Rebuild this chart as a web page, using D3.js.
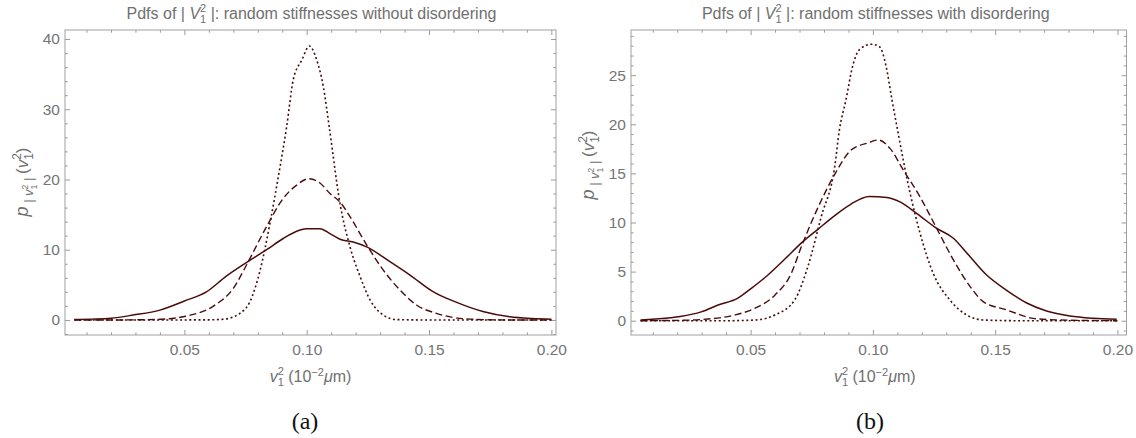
<!DOCTYPE html>
<html>
<head>
<meta charset="utf-8">
<script src="https://cdn.jsdelivr.net/npm/d3@7"></script>
<style>
  html, body { margin: 0; padding: 0; background: #fff; }
  svg { display: block; }
  .tick text { font-family: "Liberation Sans", Arial, sans-serif; font-size: 15.5px; fill: #747474; }
  .tick line { stroke: #9a9a9a; stroke-width: 1; }
</style>
</head>
<body>
<svg id="chart" width="1136" height="438"></svg>
<script>
// ---- data: panel (a), random stiffnesses without disordering ----
const aSolidV  = [0.005, 0.012, 0.020, 0.029, 0.040, 0.050, 0.059, 0.067, 0.0755, 0.0836, 0.0904, 0.0973, 0.100, 0.1054, 0.1095, 0.1136, 0.119, 0.1245, 0.134, 0.1422, 0.1518, 0.1613, 0.172, 0.183, 0.192, 0.200];
const aSolidP  = [0.05, 0.12, 0.25, 0.7, 1.4, 2.7, 4.0, 6.2, 8.2, 10.0, 11.6, 12.8, 13.0, 13.0, 12.3, 11.5, 11.1, 10.4, 8.3, 6.4, 4.0, 2.5, 1.2, 0.45, 0.2, 0.1];
const aDashV   = [0.005, 0.020, 0.030, 0.040, 0.050, 0.062, 0.070, 0.0755, 0.0836, 0.0904, 0.0959, 0.1007, 0.1054, 0.1095, 0.1136, 0.1177, 0.1245, 0.1313, 0.138, 0.145, 0.153, 0.161, 0.172, 0.185, 0.200];
const aDashP   = [0, 0, 0.02, 0.1, 0.5, 2.0, 4.5, 7.9, 13.3, 17.3, 19.2, 20.1, 19.5, 18.0, 16.8, 14.7, 10.7, 7.1, 4.3, 2.1, 0.95, 0.3, 0.05, 0, 0];
const aDotV    = [0.005, 0.040, 0.060, 0.066, 0.0727, 0.0768, 0.0809, 0.085, 0.0884, 0.0918, 0.0945, 0.098, 0.1011, 0.1041, 0.1068, 0.1092, 0.1136, 0.1177, 0.1218, 0.1259, 0.1313, 0.1368, 0.150, 0.200];
const aDotP    = [0, 0, 0.02, 0.1, 0.95, 2.6, 7.0, 13.8, 20.4, 27.5, 34.2, 37.0, 39.0, 37.0, 33.2, 27.5, 16.6, 10.4, 6.2, 2.85, 0.7, 0.05, 0, 0];

// ---- data: panel (b), random stiffnesses with disordering ----
const bSolidV  = [0.005, 0.0203, 0.0298, 0.0367, 0.0448, 0.0503, 0.0571, 0.0639, 0.0707, 0.0775, 0.0844, 0.0912, 0.0985, 0.1057, 0.1111, 0.118, 0.1261, 0.1329, 0.1384, 0.1465, 0.1547, 0.1629, 0.171, 0.1806, 0.190, 0.1997];
const bSolidP  = [0.07, 0.4, 0.9, 1.6, 2.3, 3.3, 4.65, 6.25, 7.9, 9.3, 10.7, 11.9, 12.65, 12.55, 12.1, 10.9, 9.4, 8.4, 6.9, 4.65, 3.1, 1.8, 0.99, 0.48, 0.25, 0.14];
const bDashV   = [0.005, 0.020, 0.0326, 0.0435, 0.0517, 0.0599, 0.0666, 0.0707, 0.0775, 0.0844, 0.0912, 0.098, 0.1022, 0.107, 0.1124, 0.1193, 0.1261, 0.1329, 0.1397, 0.1451, 0.1547, 0.1656, 0.175, 0.200];
const bDashP   = [0, 0.03, 0.17, 0.58, 1.26, 2.6, 4.8, 7.5, 11.5, 14.9, 17.4, 18.1, 18.4, 17.55, 15.35, 12.6, 9.4, 6.2, 3.5, 1.95, 1.1, 0.24, 0.08, 0];
const bDotV    = [0.005, 0.040, 0.0517, 0.0599, 0.068, 0.0734, 0.0789, 0.0844, 0.0863, 0.089, 0.0917, 0.0945, 0.0993, 0.1027, 0.1054, 0.1078, 0.1101, 0.1152, 0.1193, 0.1247, 0.1315, 0.1384, 0.1451, 0.160, 0.200];
const bDotP    = [0, 0, 0.07, 0.58, 2.1, 5.5, 10.6, 15.7, 19.4, 22.5, 25.9, 27.6, 28.15, 27.9, 25.9, 22.5, 19.4, 13.0, 8.9, 4.8, 2.1, 0.58, 0.07, 0, 0];

// ---- ticks and labels ----
const xMajorTicks = [0.05, 0.10, 0.15, 0.20];
const xMinorTicks = d3.range(1, 21).map(i => i / 100);
const aYMajorTicks = [0, 10, 20, 30, 40];
const aYMinorTicks = d3.range(-2, 42, 2);
const bYMajorTicks = [0, 5, 10, 15, 20, 25];
const bYMinorTicks = d3.range(-1, 30, 1);
const titleA = "random stiffnesses without disordering";
const titleB = "random stiffnesses with disordering";
const captions = ["(a)", "(b)"];

const LINE = "#4a0b0b";
const FRAME = "#a0a0a0";
const TEXT = "#707070";
const SANS = "'Liberation Sans', Arial, sans-serif";

const svg = d3.select("#chart");

// measure a text run at a given size/style
const meas = svg.append("text").attr("font-family", SANS).attr("x", -1000).attr("y", -1000);
function textWidth(str, size, italic) {
  meas.attr("font-size", size).attr("font-style", italic ? "italic" : "normal").text(str);
  return meas.node().getComputedTextLength();
}

// runs: {t, size, italic, rise}  (rise = baseline offset, positive up)
// stacked sup/sub: {sup, sub, size, rise: [supRise, subRise]}
function richText(parent, runs, x, y, opts) {
  const txt = parent.append("text")
    .attr("x", x).attr("y", y)
    .attr("font-family", SANS)
    .attr("fill", opts.fill || TEXT)
    .attr("text-anchor", "middle");
  if (opts.transform) txt.attr("transform", opts.transform);
  let cur = 0;
  runs.forEach(r => {
    if (r.sup !== undefined) {
      const wSup = textWidth(r.sup, r.size, false);
      const wSub = textWidth(r.sub, r.size, false);
      txt.append("tspan").attr("font-size", r.size).attr("dy", -(r.rise[0] - cur)).text(r.sup);
      cur = r.rise[0];
      txt.append("tspan").attr("font-size", r.size).attr("dx", -wSup).attr("dy", -(r.rise[1] - cur)).text(r.sub);
      cur = r.rise[1];
      if (wSup > wSub) txt.append("tspan").attr("font-size", r.size).attr("dx", wSup - wSub).text("");
    } else {
      const rise = r.rise || 0;
      txt.append("tspan")
        .attr("font-size", r.size)
        .attr("font-style", r.italic ? "italic" : "normal")
        .attr("dy", -(rise - cur))
        .text(r.t);
      cur = rise;
    }
  });
  return txt;
}

function panel(cfg) {
  const g = svg.append("g");
  const x = d3.scaleLinear().domain(cfg.xDomain).range([cfg.left, cfg.right]);
  const y = d3.scaleLinear().domain(cfg.yDomain).range([cfg.bottom, cfg.top]);

  const fmt = d3.format(".2f");
  const clean = sel => { sel.select(".domain").remove(); };
  const xMinor = xMinorTicks.filter(v => !xMajorTicks.some(m => Math.abs(m - v) < 1e-9));

  // bottom: minor then major (with labels)
  g.append("g").attr("transform", `translate(0,${cfg.bottom})`)
    .call(d3.axisBottom(x).tickValues(xMinor).tickSizeInner(-2.7).tickSizeOuter(0).tickFormat(""))
    .call(clean);
  g.append("g").attr("transform", `translate(0,${cfg.bottom})`)
    .call(d3.axisBottom(x).tickValues(xMajorTicks).tickSizeInner(-5).tickSizeOuter(0).tickPadding(9).tickFormat(fmt))
    .call(clean);
  // top mirror ticks
  g.append("g").attr("transform", `translate(0,${cfg.top})`)
    .call(d3.axisTop(x).tickValues(xMinor).tickSizeInner(-2.7).tickSizeOuter(0).tickFormat(""))
    .call(clean);
  g.append("g").attr("transform", `translate(0,${cfg.top})`)
    .call(d3.axisTop(x).tickValues(xMajorTicks).tickSizeInner(-5).tickSizeOuter(0).tickFormat(""))
    .call(clean);

  const yMinor = cfg.yMinor.filter(v => !cfg.yMajor.includes(v) && v >= cfg.yDomain[0] && v <= cfg.yDomain[1]);
  // left
  g.append("g").attr("transform", `translate(${cfg.left},0)`)
    .call(d3.axisLeft(y).tickValues(yMinor).tickSizeInner(-2.7).tickSizeOuter(0).tickFormat(""))
    .call(clean);
  g.append("g").attr("transform", `translate(${cfg.left},0)`)
    .call(d3.axisLeft(y).tickValues(cfg.yMajor).tickSizeInner(-5).tickSizeOuter(0).tickPadding(5).tickFormat(d3.format("d")))
    .call(clean);
  // right mirror
  g.append("g").attr("transform", `translate(${cfg.right},0)`)
    .call(d3.axisRight(y).tickValues(yMinor).tickSizeInner(-2.7).tickSizeOuter(0).tickFormat(""))
    .call(clean);
  g.append("g").attr("transform", `translate(${cfg.right},0)`)
    .call(d3.axisRight(y).tickValues(cfg.yMajor).tickSizeInner(-5).tickSizeOuter(0).tickFormat(""))
    .call(clean);

  // frame
  g.append("rect")
    .attr("x", cfg.left).attr("y", cfg.top)
    .attr("width", cfg.right - cfg.left).attr("height", cfg.bottom - cfg.top)
    .attr("fill", "none").attr("stroke", FRAME).attr("stroke-width", 1);

  // curves
  const line = d3.line().x(d => x(d[0])).y(d => y(d[1])).curve(d3.curveMonotoneX);
  const series = [
    { v: cfg.dotV,   p: cfg.dotP,   dash: "2,2.6", w: 1.6 },
    { v: cfg.dashV,  p: cfg.dashP,  dash: "7,3.5", w: 1.4 },
    { v: cfg.solidV, p: cfg.solidP, dash: null,    w: 1.5 }
  ];
  series.forEach(s => {
    g.append("path")
      .datum(s.v.map((v, i) => [v, s.p[i]]))
      .attr("d", line)
      .attr("fill", "none")
      .attr("stroke", LINE)
      .attr("stroke-width", s.w)
      .attr("stroke-dasharray", s.dash);
  });

  // title:  Pdfs of | V_1^2 |: <subtitle>
  const cx = (cfg.left + cfg.right) / 2 + cfg.titleDx;
  richText(g, [
    { t: "Pdfs of  | ", size: 16 },
    { t: "V", size: 16, italic: true },
    { sup: "2", sub: "1", size: 11, rise: [7, -4] },
    { t: " |: " + cfg.title, size: 16, rise: 0 }
  ], cx, 19, {});

  // x label:  v_1^2 (10^-2 μm)
  richText(g, [
    { t: "v", size: 16, italic: true },
    { sup: "2", sub: "1", size: 11, rise: [7, -4] },
    { t: " (10", size: 16, rise: 0 },
    { t: "−2", size: 11, rise: 6.5 },
    { t: "μ", size: 16, italic: true, rise: 0 },
    { t: "m)", size: 16, rise: 0 }
  ], cx - 1, 382, {});

  // y label:  p_{|v_1^2|}(v_1^2)
  const ly = cfg.yLabelY, lx = cfg.left - 37;
  richText(g, [
    { t: "p", size: 18, italic: true },
    { t: " | ", size: 13, rise: -5 },
    { t: "v", size: 13, italic: true, rise: -5 },
    { sup: "2", sub: "1", size: 8.5, rise: [0.5, -8.5] },
    { t: " | ", size: 13, rise: -5 },
    { t: "(", size: 17, rise: 0 },
    { t: "v", size: 17, italic: true, rise: 0 },
    { sup: "2", sub: "1", size: 12, rise: [7, -4.5] },
    { t: ")", size: 17, rise: 0 }
  ], lx, ly, { transform: `rotate(-90,${lx},${ly})` });

  // caption
  g.append("text")
    .attr("x", cfg.capX).attr("y", 429)
    .attr("text-anchor", "middle")
    .attr("font-family", "'Liberation Serif', 'Times New Roman', serif")
    .attr("font-size", 24)
    .attr("fill", "#111")
    .text(cfg.caption);
}

panel({
  left: 65, right: 556, top: 30, bottom: 335,
  xDomain: [0.0012, 0.2019], yDomain: [-2.14, 41.28],
  yMajor: aYMajorTicks, yMinor: aYMinorTicks,
  solidV: aSolidV, solidP: aSolidP, dashV: aDashV, dashP: aDashP, dotV: aDotV, dotP: aDotP,
  title: titleA, titleDx: 1, yLabelY: 182, caption: captions[0], capX: 305
});

panel({
  left: 631, right: 1126.5, top: 30, bottom: 335,
  xDomain: [0.0011, 0.2037], yDomain: [-1.455, 29.6],
  yMajor: bYMajorTicks, yMinor: bYMinorTicks,
  solidV: bSolidV, solidP: bSolidP, dashV: bDashV, dashP: bDashP, dotV: bDotV, dotP: bDotP,
  title: titleB, titleDx: -3, yLabelY: 165, caption: captions[1], capX: 870
});

meas.remove();
</script>
</body>
</html>
